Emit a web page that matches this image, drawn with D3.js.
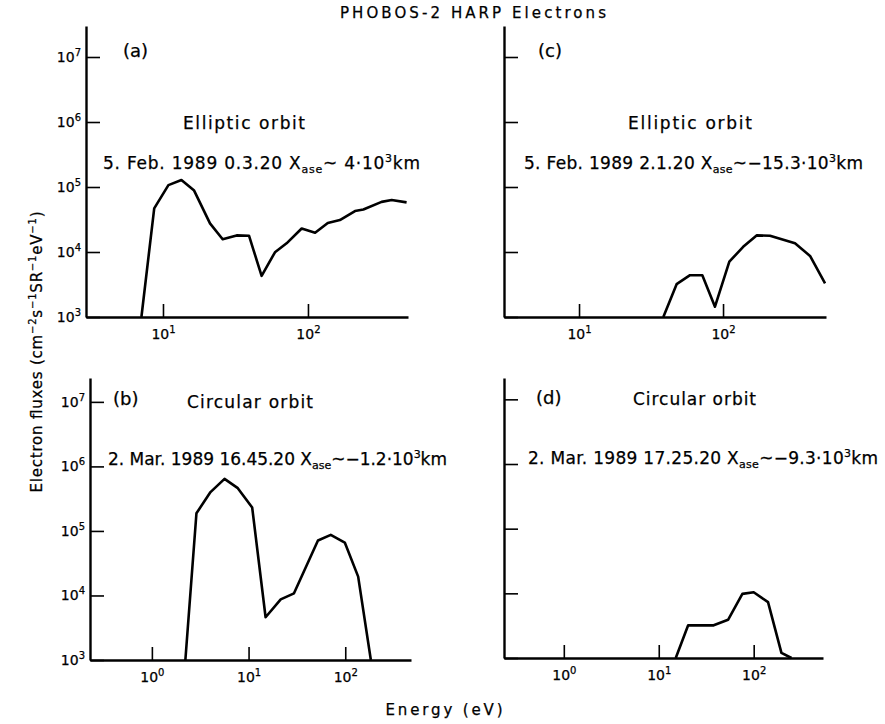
<!DOCTYPE html>
<html><head><meta charset="utf-8">
<script src="https://cdn.jsdelivr.net/npm/d3@7"></script>
<style>body{margin:0;background:#fff}svg{display:block}text{font-family:"DejaVu Sans",sans-serif;fill:#000;stroke:#000;stroke-width:0.25px}</style>
</head><body><svg id="c" width="885" height="724"></svg>
<script>
// ---- data ----
const energyA=[7.1,8.7,10.9,13.4,16.4,21.1,25.8,32.2,39.2,47.9,59.2,71.2,90.5,112,137,166,211,241,322,378,479];
const fluxA=[1e3,4.7e4,1.07e5,1.28e5,8.8e4,2.76e4,1.57e4,1.8e4,1.78e4,4.3e3,9.9e3,1.36e4,2.3e4,1.98e4,2.8e4,3.1e4,4.27e4,4.5e4,5.9e4,6.3e4,5.8e4];
const energyB=[2.22,2.89,4.04,5.64,7.74,10.9,15,21.5,29.5,52.2,70.8,98.9,136,184];
const fluxB=[1e3,1.88e5,4e5,6.4e5,4.6e5,2.3e5,4.6e3,8.7e3,1.08e4,7.1e4,8.7e4,6.6e4,1.96e4,1e3];
const energyC=[38.5,47.6,59,71.8,87.9,110.6,138,171,212,316,402,511];
const fluxC=[1e3,3.2e3,4.4e3,4.4e3,1.44e3,7.1e3,1.2e4,1.8e4,1.78e4,1.36e4,8.7e3,3.3e3];
const energyD=[15.1,20.4,37.9,53.7,76,100,141.6,196,250];
const fluxD=[1e3,3.2e3,3.2e3,3.9e3,9.8e3,1.04e4,7.3e3,1.2e3,1e3];
const yTickExps=[3,4,5,6,7];
const xTickExpsTop=[1,2];
const xTickExpsBottom=[0,1,2];
const panelLetters=["(a)","(b)","(c)","(d)"];
const orbitLabels=["Elliptic orbit","Circular orbit","Elliptic orbit","Circular orbit"];
const dateLabels=["5. Feb. 1989 0.3.20","2. Mar. 1989 16.45.20","5. Feb. 1989 2.1.20","2. Mar. 1989 17.25.20"];
const distLabels=[" 4","\u22121.2","\u221215.3","\u22129.3"];
const titleText="PHOBOS-2 HARP Electrons";

// ---- layout ----
const panels=[
 {e:energyA,f:fluxA,xd:[Math.pow(10,0.469),Math.pow(10,2.69)],xr:[86,408],yd:[1e3,Math.pow(10,7.477)],yr:[317,26],xt:xTickExpsTop,ylab:true,
  letter:[123,52],orbit:[183,129,122],date:[103,169,317]},
 {e:energyB,f:fluxB,xd:[Math.pow(10,-0.64),Math.pow(10,2.68)],xr:[90,411],yd:[1e3,Math.pow(10,7.37)],yr:[660,378],xt:xTickExpsBottom,ylab:true,
  letter:[113,400],orbit:[187,408,126],date:[108,465,339]},
 {e:energyC,f:fluxC,xd:[Math.pow(10,0.479),Math.pow(10,2.715)],xr:[504,826],yd:[1e3,Math.pow(10,7.477)],yr:[317,26],xt:xTickExpsTop,ylab:false,
  letter:[538,52],orbit:[628,129,124],date:[524,169,339]},
 {e:energyD,f:fluxD,xd:[Math.pow(10,-0.63),Math.pow(10,2.73)],xr:[504,823],yd:[1e3,Math.pow(10,7.33)],yr:[658,378],xt:xTickExpsBottom,ylab:false,
  letter:[536,399],orbit:[633,405,123],date:[528,464,350]}
];

const svg=d3.select("#c");

function powLabel(sel,exp){
  sel.text(null);
  sel.append("tspan").text("10");
  sel.append("tspan").attr("dy",-6).attr("font-size",10).text(exp);
}

panels.forEach((p,i)=>{
  const x=d3.scaleLog().domain(p.xd).range(p.xr);
  const y=d3.scaleLog().domain(p.yd).range(p.yr);
  const g=svg.append("g");
  // y axis
  const ya=d3.axisLeft(y).tickValues(yTickExps.map(k=>Math.pow(10,k))).tickSize(-14).tickSizeOuter(0).tickPadding(5);
  const yg=g.append("g").attr("transform",`translate(${p.xr[0]},0)`).call(ya);
  yg.select(".domain").attr("stroke","#000").attr("stroke-width",2.4);
  yg.selectAll(".tick line").attr("stroke","#000").attr("stroke-width",1.6);
  yg.selectAll(".tick text").attr("font-size",14).attr("fill","#000").each(function(d){
    if(p.ylab){powLabel(d3.select(this),Math.round(Math.log10(d)));} else d3.select(this).remove();
  });
  // x axis
  const xa=d3.axisBottom(x).tickValues(p.xt.map(k=>Math.pow(10,k))).tickSize(-13).tickSizeOuter(0).tickPadding(9);
  const xg=g.append("g").attr("transform",`translate(0,${p.yr[0]})`).call(xa);
  xg.select(".domain").attr("stroke","#000").attr("stroke-width",2.4);
  xg.selectAll(".tick line").attr("stroke","#000").attr("stroke-width",1.6);
  xg.selectAll(".tick text").attr("font-size",14).attr("fill","#000").attr("dy","0.9em").each(function(d){
    powLabel(d3.select(this),Math.round(Math.log10(d)));
  });
  // curve
  const pts=p.e.map((e,k)=>[e,p.f[k]]);
  g.append("path").datum(pts).attr("fill","none").attr("stroke","#000").attr("stroke-width",2.6)
    .attr("stroke-linejoin","round")
    .attr("d",d3.line().x(d=>x(d[0])).y(d=>y(d[1])));
  // texts
  g.append("text").attr("x",p.letter[0]).attr("y",p.letter[1]).attr("font-size",18).attr("dominant-baseline","middle")
    .attr("font-family","Liberation Serif, serif").text(panelLetters[i]);
  g.append("text").attr("x",p.orbit[0]).attr("y",p.orbit[1]).attr("font-size",17)
    .attr("textLength",p.orbit[2]).attr("lengthAdjust","spacing").text(orbitLabels[i]);
  const t=g.append("text").attr("x",p.date[0]).attr("y",p.date[1]).attr("font-size",17)
    .attr("textLength",p.date[2]).attr("lengthAdjust","spacing");
  t.append("tspan").text(dateLabels[i]+"  X");
  t.append("tspan").attr("dy",4).attr("font-size",11).text("ase");
  t.append("tspan").attr("dy",-4).text("~"+distLabels[i]+"\u00b710");
  t.append("tspan").attr("dy",-7).attr("font-size",11).text("3");
  t.append("tspan").attr("dy",7).text("km");
});

// title
svg.append("text").attr("x",473).attr("y",18).attr("text-anchor","middle").attr("font-size",15)
  .attr("textLength",266).attr("lengthAdjust","spacing").text(titleText);
// x label
svg.append("text").attr("x",444).attr("y",715).attr("text-anchor","middle").attr("font-size",15)
  .attr("textLength",117).attr("lengthAdjust","spacing").text("Energy (eV)");
// y label
const yl=svg.append("text").attr("transform","translate(42,352) rotate(-90)").attr("text-anchor","middle").attr("font-size",15)
  .attr("textLength",281).attr("lengthAdjust","spacing");
[["Electron fluxes (cm",0],["\u22122",1],["s",0],["\u22121",1],["SR",0],["\u22121",1],["eV",0],["\u22121",1],[")",0]].forEach(([s,sup],k,arr)=>{
  const prev=k>0?arr[k-1][1]:0;
  const dy=sup&&!prev?-6:(!sup&&prev?6:0);
  yl.append("tspan").attr("dy",dy).attr("font-size",sup?10:15).text(s);
});
</script></body></html>
